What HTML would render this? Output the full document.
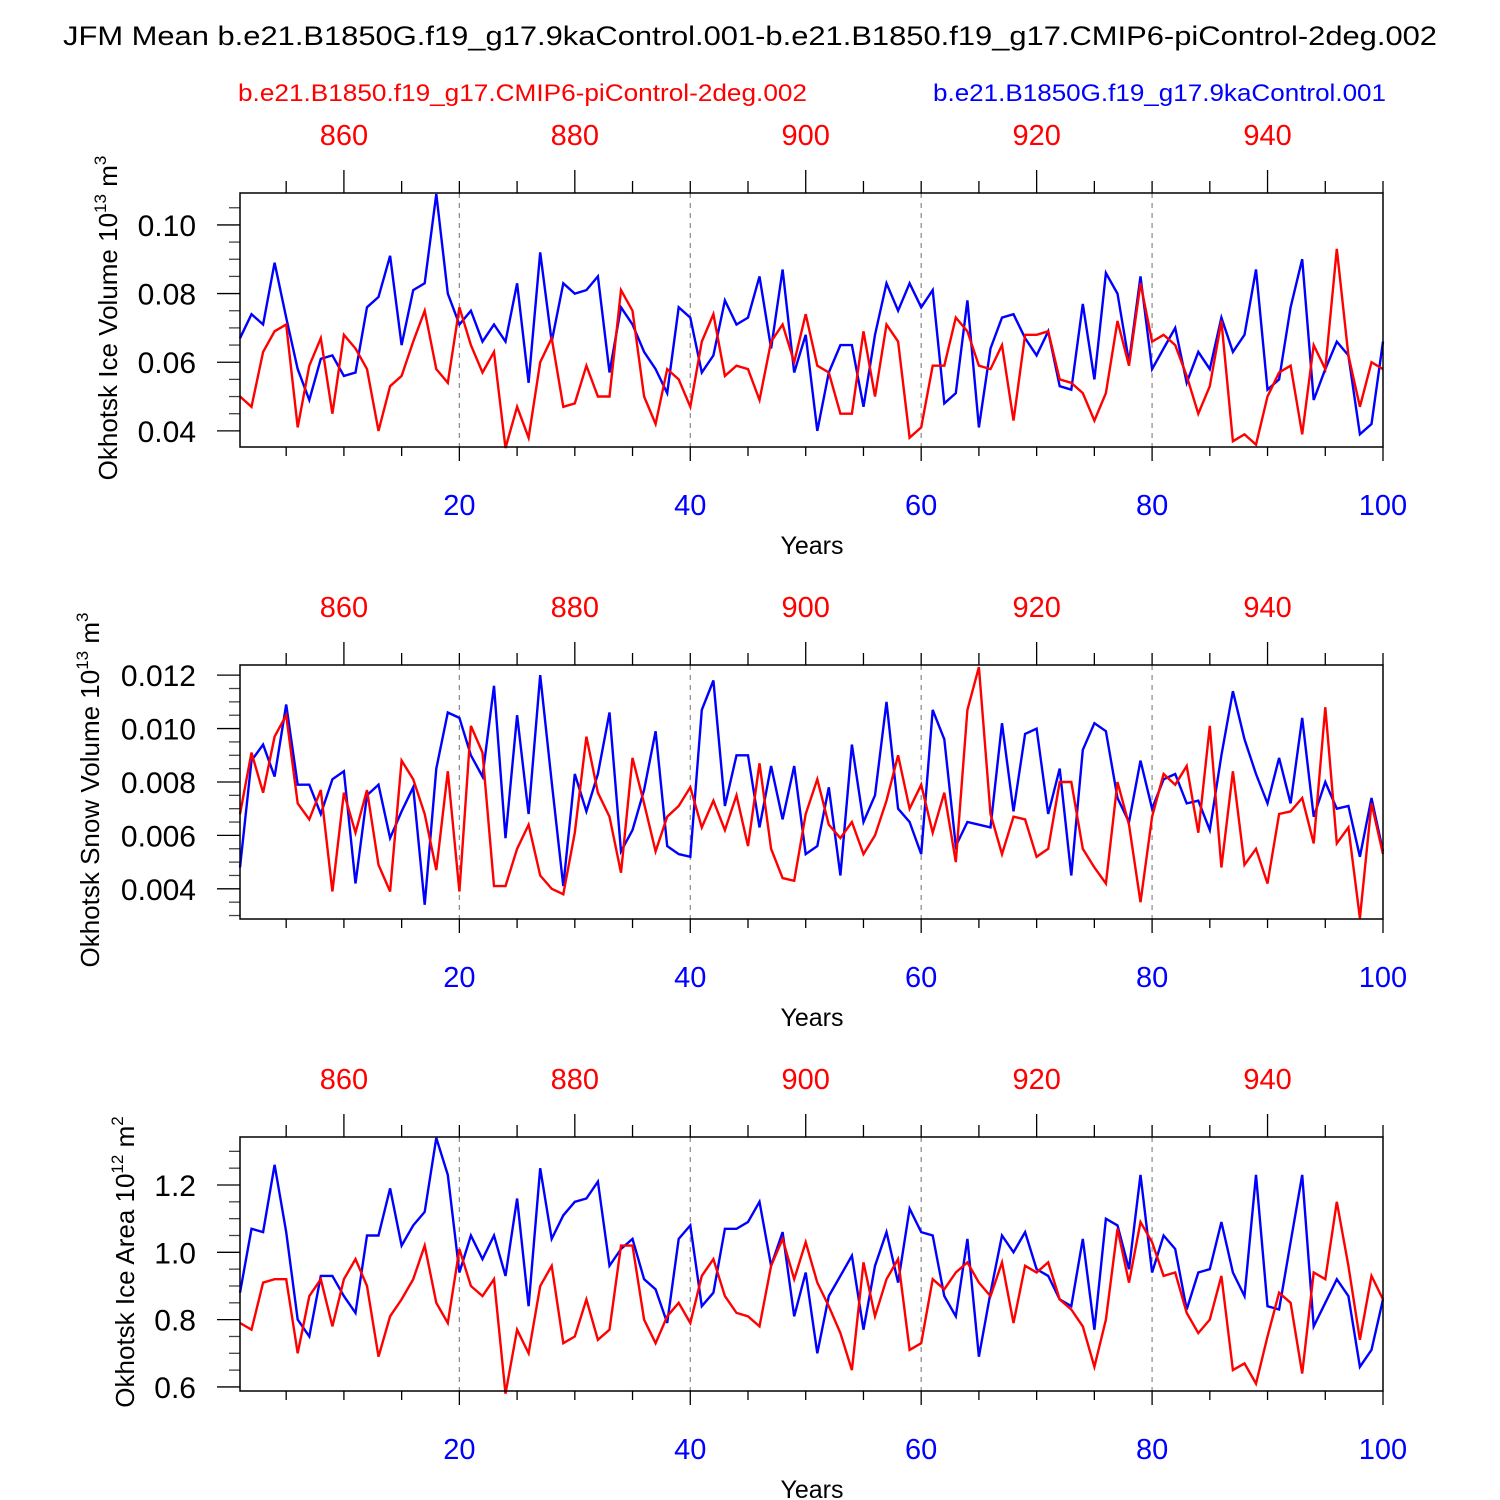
<!DOCTYPE html>
<html><head><meta charset="utf-8"><style>
html,body{margin:0;padding:0;background:#fff}
svg{display:block;font-family:"Liberation Sans",Arial,sans-serif}
</style></head><body>
<svg id="chart" width="1500" height="1500" viewBox="0 0 1500 1500" xmlns="http://www.w3.org/2000/svg">
<text x="63" y="45" font-size="27" textLength="1374" lengthAdjust="spacingAndGlyphs" fill="#000">JFM Mean b.e21.B1850G.f19_g17.9kaControl.001-b.e21.B1850.f19_g17.CMIP6-piControl-2deg.002</text>
<text x="238" y="101" font-size="24" textLength="569" lengthAdjust="spacingAndGlyphs" fill="#ff0000">b.e21.B1850.f19_g17.CMIP6-piControl-2deg.002</text>
<text x="933" y="101" font-size="24" textLength="453" lengthAdjust="spacingAndGlyphs" fill="#0000ff">b.e21.B1850G.f19_g17.9kaControl.001</text>
</svg>
<script>
const years = Array.from({length:100},(_,i)=>i+1);
const iceVolBlue=[0.067,0.074,0.071,0.089,0.073,0.058,0.049,0.061,0.062,0.056,0.057,0.076,0.079,0.091,0.065,0.081,0.083,0.109,0.080,0.071,0.075,0.066,0.071,0.066,0.083,0.054,0.092,0.066,0.083,0.080,0.081,0.085,0.057,0.076,0.071,0.063,0.058,0.051,0.076,0.073,0.057,0.062,0.078,0.071,0.073,0.085,0.064,0.087,0.057,0.068,0.040,0.057,0.065,0.065,0.047,0.068,0.083,0.075,0.083,0.076,0.081,0.048,0.051,0.078,0.041,0.064,0.073,0.074,0.067,0.062,0.069,0.053,0.052,0.077,0.055,0.086,0.080,0.060,0.085,0.058,0.064,0.070,0.054,0.063,0.058,0.073,0.063,0.068,0.087,0.052,0.055,0.076,0.090,0.049,0.058,0.066,0.062,0.039,0.042,0.066];
const iceVolRed=[0.050,0.047,0.063,0.069,0.071,0.041,0.059,0.067,0.045,0.068,0.064,0.058,0.040,0.053,0.056,0.066,0.075,0.058,0.054,0.076,0.065,0.057,0.063,0.035,0.047,0.038,0.060,0.067,0.047,0.048,0.059,0.050,0.050,0.081,0.075,0.050,0.042,0.058,0.055,0.047,0.066,0.074,0.056,0.059,0.058,0.049,0.066,0.071,0.060,0.074,0.059,0.057,0.045,0.045,0.069,0.050,0.071,0.066,0.038,0.041,0.059,0.059,0.073,0.069,0.059,0.058,0.065,0.043,0.068,0.068,0.069,0.055,0.054,0.051,0.043,0.051,0.072,0.059,0.083,0.066,0.068,0.065,0.056,0.045,0.053,0.072,0.037,0.039,0.036,0.050,0.057,0.059,0.039,0.065,0.058,0.093,0.062,0.047,0.060,0.058];
const snowBlue=[.0048,.0088,.0094,.0082,.0109,.0079,.0079,.0068,.0081,.0084,.0042,.0075,.0079,.0059,.0069,.0078,.0034,.0085,.0106,.0104,.0090,.0082,.0116,.0059,.0105,.0068,.0120,.0080,.0041,.0083,.0069,.0083,.0106,.0054,.0062,.0077,.0099,.0056,.0053,.0052,.0107,.0118,.0071,.0090,.0090,.0063,.0086,.0066,.0086,.0053,.0056,.0078,.0045,.0094,.0065,.0075,.0110,.0070,.0065,.0053,.0107,.0096,.0056,.0065,.0064,.0063,.0102,.0069,.0098,.0100,.0068,.0085,.0045,.0092,.0102,.0099,.0074,.0065,.0088,.0070,.0081,.0083,.0072,.0073,.0062,.0090,.0114,.0096,.0083,.0072,.0089,.0072,.0104,.0067,.0080,.0070,.0071,.0052,.0074,.0054];
const snowRed=[.0068,.0091,.0076,.0097,.0105,.0072,.0066,.0077,.0039,.0076,.0061,.0077,.0049,.0039,.0088,.0081,.0068,.0047,.0084,.0039,.0101,.0091,.0041,.0041,.0055,.0064,.0045,.0040,.0038,.0061,.0097,.0076,.0067,.0046,.0089,.0072,.0054,.0067,.0071,.0078,.0063,.0073,.0062,.0075,.0056,.0087,.0055,.0044,.0043,.0068,.0081,.0064,.0059,.0065,.0053,.0060,.0073,.0090,.0070,.0079,.0061,.0076,.0050,.0107,.0123,.0068,.0053,.0067,.0066,.0052,.0055,.0080,.0080,.0055,.0048,.0042,.0080,.0064,.0035,.0067,.0083,.0079,.0086,.0061,.0101,.0048,.0084,.0049,.0055,.0042,.0068,.0069,.0074,.0057,.0108,.0057,.0063,.0029,.0072,.0053];
const areaBlue=[0.88,1.07,1.06,1.26,1.06,0.80,0.75,0.93,0.93,0.87,0.82,1.05,1.05,1.19,1.02,1.08,1.12,1.34,1.23,0.94,1.05,0.98,1.05,0.93,1.16,0.84,1.25,1.04,1.11,1.15,1.16,1.21,0.96,1.01,1.04,0.92,0.89,0.79,1.04,1.08,0.84,0.88,1.07,1.07,1.09,1.15,0.96,1.06,0.81,0.94,0.70,0.87,0.93,0.99,0.77,0.96,1.06,0.91,1.13,1.06,1.05,0.87,0.81,1.04,0.69,0.88,1.05,1.00,1.06,0.95,0.93,0.86,0.84,1.04,0.77,1.10,1.08,0.95,1.23,0.94,1.05,1.01,0.83,0.94,0.95,1.09,0.94,0.87,1.23,0.84,0.83,1.03,1.23,0.78,0.85,0.92,0.87,0.66,0.71,0.86];
const areaRed=[0.79,0.77,0.91,0.92,0.92,0.70,0.87,0.92,0.78,0.92,0.98,0.90,0.69,0.81,0.86,0.92,1.02,0.85,0.79,1.01,0.90,0.87,0.92,0.58,0.77,0.70,0.90,0.96,0.73,0.75,0.86,0.74,0.77,1.02,1.02,0.80,0.73,0.81,0.85,0.79,0.93,0.98,0.87,0.82,0.81,0.78,0.96,1.04,0.92,1.03,0.91,0.84,0.76,0.65,0.97,0.81,0.92,0.98,0.71,0.73,0.92,0.89,0.94,0.97,0.91,0.87,0.97,0.79,0.96,0.94,0.97,0.86,0.83,0.78,0.66,0.80,1.07,0.91,1.09,1.03,0.93,0.94,0.82,0.76,0.80,0.93,0.65,0.67,0.61,0.75,0.88,0.85,0.64,0.94,0.92,1.15,0.96,0.74,0.93,0.86];
const bottomTicks=[20,40,60,80,100];
const topTickLabels=[860,880,900,920,940];
const yTicks1=[0.04,0.06,0.08,0.10];
const yTicks2=[0.004,0.006,0.008,0.010,0.012];
const yTicks3=[0.6,0.8,1.0,1.2];

const NS="http://www.w3.org/2000/svg";
const svg=document.getElementById('chart');
const X0=240,X1=1383,YR0=1,YR1=100;
function xs(v){return X0+(v-YR0)*(X1-X0)/(YR1-YR0);}
function mk(tag,attrs,parent){const e=document.createElementNS(NS,tag);for(const k in attrs)e.setAttribute(k,attrs[k]);(parent||svg).appendChild(e);return e;}

const panels=[
 {top:193,yMin:0.0353,yMax:0.1093,ticks:yTicks1,minor:0.005,dec:2,blue:iceVolBlue,red:iceVolRed,name:'ice-volume',title:'Okhotsk Ice Volume 10',exp:'13',unit:' m',uexp:'3',tx:117,tlen:325},
 {top:665,yMin:0.00287,yMax:0.01238,ticks:yTicks2,minor:0.0005,dec:3,blue:snowBlue,red:snowRed,name:'snow-volume',title:'Okhotsk Snow Volume 10',exp:'13',unit:' m',uexp:'3',tx:99,tlen:355},
 {top:1137,yMin:0.588,yMax:1.3426,ticks:yTicks3,minor:0.05,dec:1,blue:areaBlue,red:areaRed,name:'ice-area',title:'Okhotsk Ice Area 10',exp:'12',unit:' m',uexp:'2',tx:134,tlen:292}
];
const H=254;
panels.forEach(p=>{
 const g=mk('g',{});
 
 
 const T=p.top,B=p.top+H;
 const ys=v=>B-(v-p.yMin)*(B-T)/(p.yMax-p.yMin);
 bottomTicks.slice(0,4).forEach(t=>{
  const l=mk('line',{x1:xs(t),x2:xs(t),y1:T,y2:B,stroke:'#888','stroke-width':1.2,'stroke-dasharray':'5,5'},g);
  
  
 });
 for(let yv=5;yv<=100;yv+=5){
  const x=xs(yv);
  const bl=(yv%20===0)?14:9;
  mk('line',{x1:x,x2:x,y1:B,y2:B+bl,stroke:'#000','stroke-width':1.3},g);
  const tl=((yv+850)%20===0)?23:12;
  mk('line',{x1:x,x2:x,y1:T,y2:T-tl,stroke:'#000','stroke-width':1.3},g);
 }
 bottomTicks.forEach(t=>{
  const tx=mk('text',{x:xs(t),y:B+68,'font-size':29,'text-anchor':'middle',fill:'#0000ff'},g);
  tx.textContent=t;
  
  
 });
 topTickLabels.forEach(t=>{
  const tx=mk('text',{x:xs(t-850),y:T-48,'font-size':29,'text-anchor':'middle',fill:'#ff0000'},g);
  tx.textContent=t;
  
  
 });
 const yl=mk('text',{x:812,y:B+107,'font-size':25,'text-anchor':'middle',fill:'#000'},g);
 yl.textContent='Years';
 
 
 const start=Math.ceil(p.yMin/p.minor-1e-6);
 for(let k=start;k*p.minor<=p.yMax+1e-9;k++){
  const v=k*p.minor;const y=ys(v);
  const major=p.ticks.some(t=>Math.abs(t-v)<p.minor/10);
  mk('line',{x1:X0-(major?23:11),x2:X0,y1:y,y2:y,stroke:major?'#000':'#444','stroke-width':1.3},g);
 }
 p.ticks.forEach(t=>{
  const tx=mk('text',{x:X0-44,y:ys(t)+11,'font-size':30,'text-anchor':'end',fill:'#000'},g);
  tx.textContent=t.toFixed(p.dec);
  
  
 });
 const cy=(T+B)/2-2;
 const tt=mk('text',{x:0,y:0,'font-size':26,'text-anchor':'middle',fill:'#000',transform:`translate(${p.tx},${cy}) rotate(-90)`},g);
 
 
 tt.appendChild(document.createTextNode(p.title));
 const s1=mk('tspan',{dy:-11,'font-size':17},tt);s1.textContent=p.exp;
 const s2=mk('tspan',{dy:11},tt);s2.textContent=p.unit;
 const s3=mk('tspan',{dy:-11,'font-size':17},tt);s3.textContent=p.uexp;
 [['blue',p.blue,'#0000ff'],['red',p.red,'#ff0000']].forEach(([nm,arr,col])=>{
  const d=arr.map((v,i)=>(i?'L':'M')+xs(years[i]).toFixed(1)+','+ys(v).toFixed(1)).join('');
  const pa=mk('path',{d:d,fill:'none',stroke:col,'stroke-width':2.4,'stroke-linejoin':'miter'},g);
  
  
 });
 const fr=mk('rect',{x:X0,y:T,width:X1-X0,height:H,fill:'none',stroke:'#000','stroke-width':1.5},g);
 
 
});
</script>
</body></html>
